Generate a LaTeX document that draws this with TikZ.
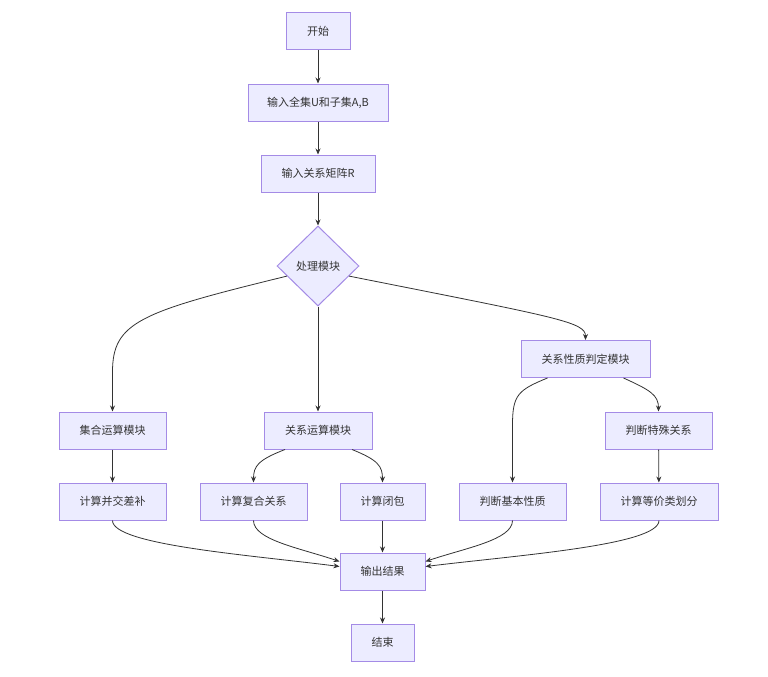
\documentclass[tikz,border=0pt]{standalone}
\usepackage{fontspec}
\setmainfont{Noto Sans CJK SC}
\usetikzlibrary{arrows.meta,shapes.geometric}
\definecolor{mmfill}{HTML}{ECECFF}
\definecolor{mmline}{HTML}{A48BE6}
\definecolor{mmedge}{HTML}{333333}

\begin{document}
\begin{tikzpicture}[x=1pt,y=-1pt]

\tikzstyle{box}=[rectangle, draw=mmline, fill=mmfill, line width=1pt, minimum height=37pt, inner sep=0pt, text=mmedge, font=\fontsize{11}{13}\selectfont]
\tikzstyle{choice}=[diamond, draw=mmline, fill=mmfill, line width=1pt, aspect=1, minimum width=82pt, minimum height=80pt, inner sep=0pt, text=mmedge, font=\fontsize{11}{13}\selectfont]
\tikzstyle{arrow}=[-{Stealth[length=6pt,width=5pt]}, line width=0.8pt, draw=mmedge]

\fill[white] (0,0) rectangle (768,677);
\useasboundingbox (0,0) rectangle (768,677);

\node (start) [box, minimum width=64pt]  at (318,31.5)    {开始};
\node (inU)   [box, minimum width=140pt] at (318,102.5)   {输入全集U和子集A,B};
\node (inR)   [box, minimum width=114pt] at (318,173.5)   {输入关系矩阵R};
\node (proc)  [choice]                   at (318,266)     {处理模块};
\node (setm)  [box, minimum width=107pt] at (112.5,430.5) {集合运算模块};
\node (relm)  [box, minimum width=108pt] at (318,430.5)   {关系运算模块};
\node (prop)  [box, minimum width=129pt] at (585.5,359)   {关系性质判定模块};
\node (spec)  [box, minimum width=107pt] at (658.5,430.5) {判断特殊关系};
\node (setop) [box, minimum width=107pt] at (112.5,501.5) {计算并交差补};
\node (comp)  [box, minimum width=107pt] at (253.5,501.5) {计算复合关系};
\node (clos)  [box, minimum width=85pt]  at (382.5,501.5) {计算闭包};
\node (basic) [box, minimum width=107pt] at (512.5,501.5) {判断基本性质};
\node (equiv) [box, minimum width=118pt] at (659,501.5)   {计算等价类划分};
\node (out)   [box, minimum width=85pt]  at (382.5,571.5) {输出结果};
\node (end)   [box, minimum width=63pt]  at (382.5,642.5) {结束};

\draw[arrow] (start) -- (inU);
\draw[arrow] (inU) -- (inR);
\draw[arrow] (inR) -- (proc);
\draw[arrow] (proc.198) .. controls (140,312) and (112.5,322) .. (112.5,372) -- (setm.north);
\draw[arrow] (proc) -- (relm);
\draw[arrow] (proc.342) .. controls (560,318) and (585.5,322) .. (prop.north);
\draw[arrow] (setm) -- (setop);
\draw[arrow] ([xshift=-33pt]relm.south) .. controls (258,460) and (253.5,466) .. (comp.north);
\draw[arrow] ([xshift=34pt]relm.south) .. controls (378,460) and (382.5,466) .. (clos.north);
\draw[arrow] ([xshift=-38pt]prop.south) .. controls (518,390) and (512.5,395) .. (512.5,425) -- (basic.north);
\draw[arrow] ([xshift=38pt]prop.south) .. controls (650,390) and (658.5,395) .. (spec.north);
\draw[arrow] (spec) -- (equiv);
\draw[arrow] (setop.south) .. controls (112.5,545) and (250,555) .. ([yshift=5pt]out.west);
\draw[arrow] (comp.south) .. controls (253.5,540) and (300,548) .. ([yshift=10pt]out.west);
\draw[arrow] (clos) -- (out);
\draw[arrow] (basic.south) .. controls (512.5,540) and (465,548) .. ([yshift=10pt]out.east);
\draw[arrow] (equiv.south) .. controls (659,545) and (520,555) .. ([yshift=5pt]out.east);
\draw[arrow] (out) -- (end);
\end{tikzpicture}
\end{document}
